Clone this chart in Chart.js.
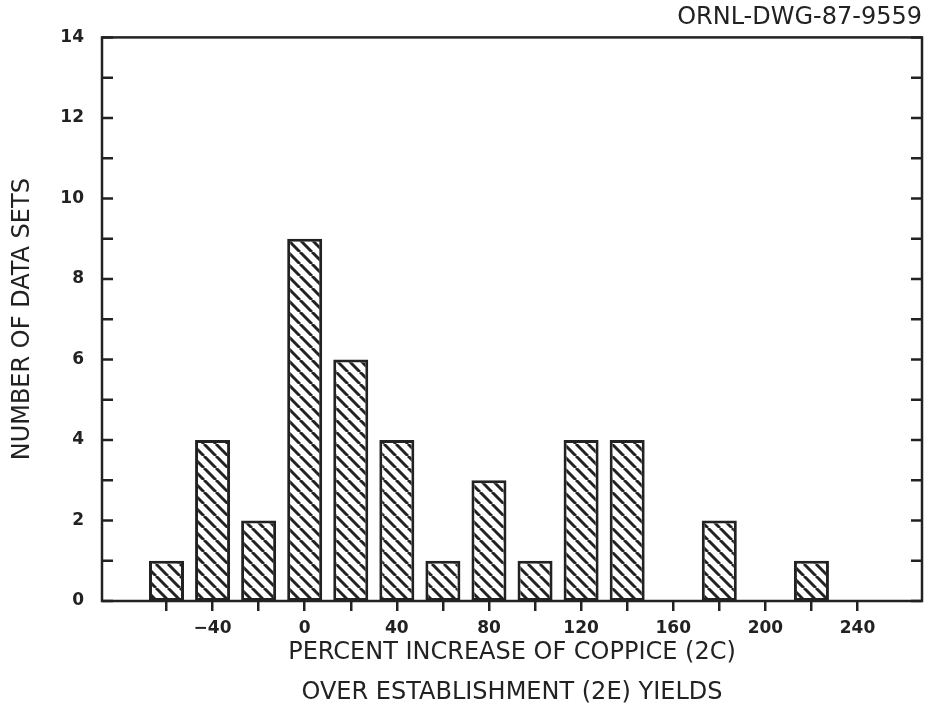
<!DOCTYPE html>
<html>
<head>
<meta charset="utf-8">
<script src="https://cdn.jsdelivr.net/npm/chart.js@4/dist/chart.umd.min.js"></script>
<style>
  body { margin: 0; background: #fff; }
  #wrap { width: 928px; height: 714px; }
</style>
</head>
<body>
<div id="wrap"><canvas id="myChart"></canvas></div>
<script>
// histogram bins (bin centre, percent) and counts
const binCenters = [-60, -40, -20, 0, 20, 40, 60, 80, 100, 120, 140, 160, 180, 200, 220];
const dataSetCounts = [1, 4, 2, 9, 6, 4, 1, 3, 1, 4, 4, 0, 2, 0, 1];
const xTickLabels = [-40, 0, 40, 80, 120, 160, 200, 240];
const yTickLabels = [0, 2, 4, 6, 8, 10, 12, 14];

const ink = '#222';
const font = "'DejaVu Sans', sans-serif";

// diagonal hatch "\\\\" for the bars
function hatch() {
  const s = 12;
  const tile = document.createElement('canvas');
  tile.width = s; tile.height = s;
  const g = tile.getContext('2d');
  g.fillStyle = '#fff';
  g.fillRect(0, 0, s, s);
  g.strokeStyle = ink;
  g.lineWidth = 3;
  [-s, 0, s].forEach(function(k) {
    g.beginPath();
    g.moveTo(k, 0);
    g.lineTo(k + s, s);
    g.stroke();
  });
  return g.createPattern(tile, 'repeat');
}

// box round the plot and inward ticks on both y sides
const frameTicks = {
  id: 'frameTicks',
  afterDatasetsDraw(chart) {
    const ctx = chart.ctx;
    const a = chart.chartArea;
    const y = chart.scales.y;
    ctx.save();
    ctx.strokeStyle = ink;
    ctx.lineWidth = 2.5;
    ctx.strokeRect(a.left, a.top, a.right - a.left, a.bottom - a.top);
    y.ticks.forEach(function(t) {
      const py = y.getPixelForValue(t.value);
      ctx.beginPath();
      ctx.moveTo(a.left, py); ctx.lineTo(a.left + 11, py);
      ctx.moveTo(a.right, py); ctx.lineTo(a.right - 11, py);
      ctx.stroke();
    });
    ctx.restore();
  }
};

const ctx = document.getElementById('myChart');

new Chart(ctx, {
  type: 'bar',
  data: {
    datasets: [{
      data: binCenters.map(function(x, i) { return {x: x, y: dataSetCounts[i]}; }),
      backgroundColor: hatch(),
      borderColor: ink,
      borderWidth: 3,
      borderSkipped: false,
      barPercentage: 0.76,
      categoryPercentage: 1
    }]
  },
  plugins: [frameTicks],
  options: {
    responsive: true,
    maintainAspectRatio: false,
    animation: false,
    layout: { padding: { left: 0, right: 6, top: 0, bottom: 0 } },
    plugins: {
      legend: { display: false },
      tooltip: { enabled: false },
      title: {
        display: true,
        text: 'ORNL-DWG-87-9559',
        align: 'end',
        color: ink,
        font: { family: font, size: 24, weight: 'normal', lineHeight: 1.1 },
        padding: { top: 5, bottom: 6 }
      }
    },
    scales: {
      x: {
        type: 'linear',
        offset: false,
        min: -88,
        max: 268,
        afterBuildTicks: function(scale) {
          scale.ticks = [];
          for (let v = -60; v <= 240; v += 20) scale.ticks.push({value: v});
        },
        afterFit: function(scale) { scale.height = 113; },
        grid: { offset: false, drawOnChartArea: false, drawTicks: true, tickLength: 10, color: ink, lineWidth: 2.5 },
        border: { display: false },
        ticks: {
          autoSkip: false,
          maxRotation: 0,
          padding: 7,
          color: ink,
          font: { family: font, size: 17, weight: 'bold' },
          callback: function(v) {
            if (!xTickLabels.includes(v)) return '';
            return v < 0 ? '\u2212' + Math.abs(v) : String(v);
          }
        },
        title: {
          display: true,
          text: ['PERCENT INCREASE OF COPPICE (2C)', 'OVER ESTABLISHMENT (2E) YIELDS'],
          color: ink,
          font: { family: font, size: 24, weight: 'normal', lineHeight: 40 / 24 },
          padding: { top: 0, bottom: 1 }
        }
      },
      y: {
        min: 0,
        max: 14,
        afterFit: function(scale) { scale.width = 102; },
        grid: { display: false, drawTicks: false },
        border: { display: false },
        ticks: {
          stepSize: 1,
          padding: 18,
          color: ink,
          font: { family: font, size: 17, weight: 'bold' },
          callback: function(v) { return yTickLabels.includes(v) ? String(v) : ''; }
        },
        title: {
          display: true,
          text: 'NUMBER OF DATA SETS',
          color: ink,
          font: { family: font, size: 24, weight: 'normal', lineHeight: 1.2 },
          padding: { top: 8, bottom: 0 }
        }
      }
    }
  }
});
</script>
</body>
</html>
